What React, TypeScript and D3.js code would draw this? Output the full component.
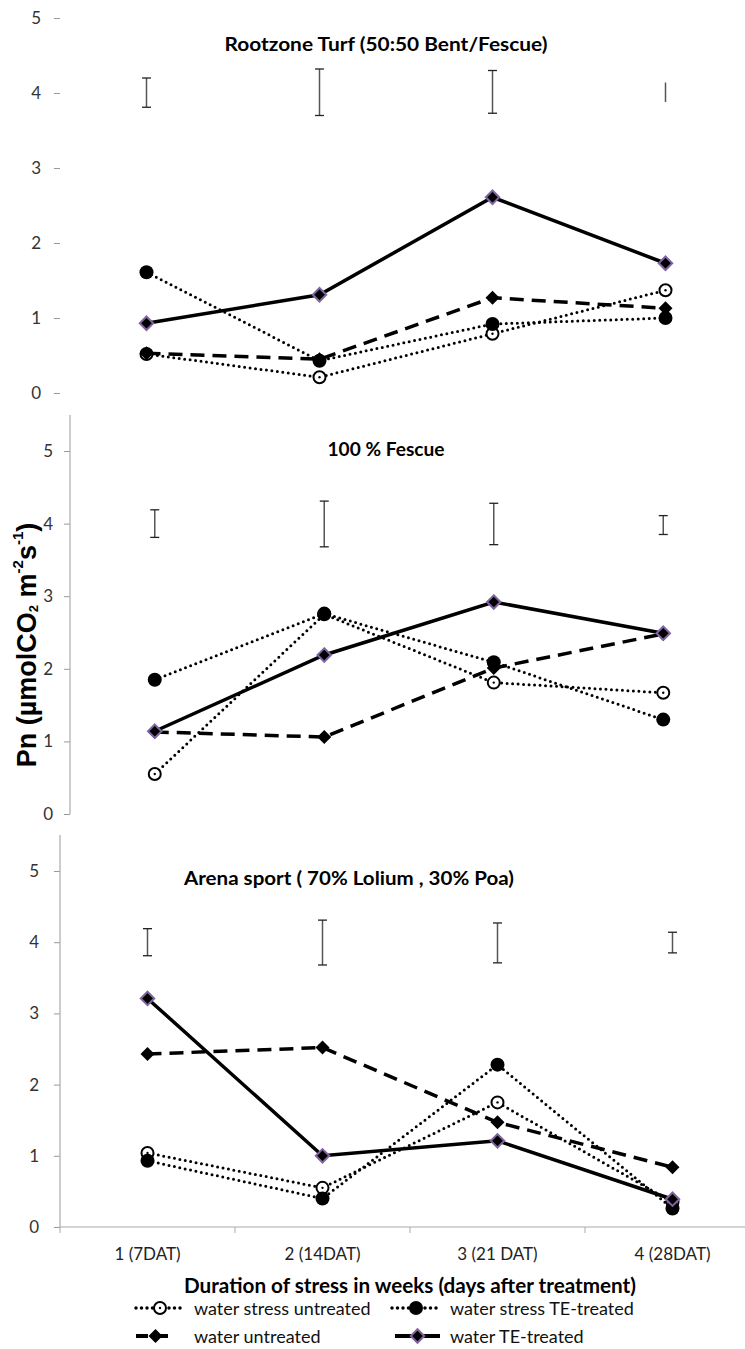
import * as d3 from "d3";
import React, { useEffect, useRef } from "react";

const weeks = ["1 (7DAT)", "2 (14DAT)", "3 (21 DAT)", "4 (28DAT)"];
const yTicks = [0, 1, 2, 3, 4, 5];
const seriesNames = [
  "water stress untreated",
  "water stress TE-treated",
  "water untreated",
  "water TE-treated",
];

// Rootzone Turf (50:50 Bent/Fescue)
const rootzoneStressUntreated = [0.52, 0.21, 0.79, 1.37];
const rootzoneStressTE = [1.61, 0.43, 0.92, 1.0];
const rootzoneWaterUntreated = [0.53, 0.45, 1.27, 1.13];
const rootzoneWaterTE = [0.93, 1.31, 2.61, 1.73];
const rootzoneLsdLow = [3.81, 3.7, 3.73, 3.88];
const rootzoneLsdHigh = [4.2, 4.32, 4.3, 4.14];

// 100 % Fescue
const fescueStressUntreated = [0.55, 2.75, 1.81, 1.67];
const fescueStressTE = [1.85, 2.76, 2.09, 1.3];
const fescueWaterUntreated = [1.13, 1.06, 2.01, 2.48];
const fescueWaterTE = [1.14, 2.19, 2.92, 2.49];
const fescueLsdLow = [3.81, 3.68, 3.71, 3.85];
const fescueLsdHigh = [4.19, 4.31, 4.28, 4.11];

// Arena sport (70% Lolium, 30% Poa)
const arenaStressUntreated = [1.04, 0.55, 1.75, 0.35];
const arenaStressTE = [0.93, 0.4, 2.28, 0.26];
const arenaWaterUntreated = [2.43, 2.52, 1.47, 0.84];
const arenaWaterTE = [3.21, 1.0, 1.21, 0.39];
const arenaLsdLow = [3.81, 3.68, 3.71, 3.85];
const arenaLsdHigh = [4.19, 4.31, 4.27, 4.14];

const sans = "Lato, 'Open Sans', sans-serif";

// line styles per series: dotted / dotted / dashed / solid
const styles = [
  { dash: "0 5.5", width: 3, cap: "round", marker: "open" },
  { dash: "0 5.5", width: 3, cap: "round", marker: "filled" },
  { dash: "14 8", width: 3.5, cap: "butt", marker: "diamond" },
  { dash: null, width: 3.5, cap: "butt", marker: "diamondPurple" },
];

function drawMarker(g, kind, cx, cy) {
  if (kind === "open") {
    g.append("circle").attr("cx", cx).attr("cy", cy).attr("r", 6)
      .attr("fill", "white").attr("stroke", "black").attr("stroke-width", 2);
    g.append("circle").attr("cx", cx).attr("cy", cy).attr("r", 1.2).attr("fill", "black");
  } else if (kind === "filled") {
    g.append("circle").attr("cx", cx).attr("cy", cy).attr("r", 7).attr("fill", "black");
  } else {
    const sym = d3.symbol(d3.symbolDiamond2, kind === "diamondPurple" ? 115 : 125);
    g.append("path").attr("d", sym()).attr("transform", `translate(${cx},${cy})`)
      .attr("fill", "black")
      .attr("stroke", kind === "diamondPurple" ? "#8064a2" : "none")
      .attr("stroke-width", 2);
  }
}

export default function App() {
  const svgRef = useRef(null);

  useEffect(() => {
    const svg = d3.select(svgRef.current);
    svg.selectAll("*").remove();

    const panels = [
      {
        series: [rootzoneStressUntreated, rootzoneStressTE, rootzoneWaterUntreated, rootzoneWaterTE],
        low: rootzoneLsdLow, high: rootzoneLsdHigh, caps: [true, true, true, false],
        xr: [60, 752], yr: [393, 18], axisTop: null, labelX: 41, xAxis: false,
        title: "Rootzone Turf  (50:50 Bent/Fescue)", tx: 386, ty: 43, tw: 323,
      },
      {
        series: [fescueStressUntreated, fescueStressTE, fescueWaterUntreated, fescueWaterTE],
        low: fescueLsdLow, high: fescueLsdHigh, caps: [true, true, true, true],
        xr: [70, 748], yr: [814, 451], axisTop: 415, labelX: 53, xAxis: false,
        title: "100 % Fescue", tx: 386, ty: 448, tw: 117,
      },
      {
        series: [arenaStressUntreated, arenaStressTE, arenaWaterUntreated, arenaWaterTE],
        low: arenaLsdLow, high: arenaLsdHigh, caps: [true, true, true, true],
        xr: [60, 760], yr: [1227, 871], axisTop: 835, labelX: 39, xAxis: true,
        title: "Arena sport ( 70% Lolium , 30% Poa)", tx: 349, ty: 877, tw: 330,
      },
    ];

    panels.forEach(p => {
      const x = d3.scaleBand().domain(weeks).range(p.xr);
      const y = d3.scaleLinear().domain([0, 5]).range(p.yr);
      const cx = d => x(d) + x.bandwidth() / 2;
      const g = svg.append("g");

      // y axis
      const ax = g.append("g").attr("transform", `translate(${p.xr[0]},0)`)
        .call(d3.axisLeft(y).tickValues(yTicks).tickSize(6).tickFormat(d3.format("d")));
      ax.select(".domain").remove();
      ax.selectAll(".tick line").attr("stroke", "#999");
      ax.selectAll(".tick text").attr("font-family", sans).attr("font-size", 17).attr("fill", "#333")
        .attr("x", p.labelX - p.xr[0]);
      if (p.axisTop !== null) {
        g.append("line").attr("x1", p.xr[0]).attr("x2", p.xr[0])
          .attr("y1", p.axisTop).attr("y2", y(0)).attr("stroke", "#aaa").attr("stroke-width", 1.2);
      }

      // x axis (bottom panel only)
      if (p.xAxis) {
        const xa = g.append("g").attr("transform", `translate(0,${y(0)})`)
          .call(d3.axisBottom(x).tickSize(0).tickPadding(21));
        xa.select(".domain").remove();
        xa.selectAll(".tick text").attr("font-family", sans).attr("font-size", 17).attr("fill", "#222");
        g.append("line").attr("x1", p.xr[0]).attr("x2", 745).attr("y1", y(0)).attr("y2", y(0))
          .attr("stroke", "#aaa").attr("stroke-width", 1.2);
        g.selectAll(".xsep").data(weeks).enter().append("line")
          .attr("x1", d => x(d)).attr("x2", d => x(d))
          .attr("y1", y(0)).attr("y2", y(0) + 6).attr("stroke", "#aaa");
      }

      // title
      g.append("text").attr("x", p.tx).attr("y", p.ty).attr("text-anchor", "middle")
        .attr("dominant-baseline", "central").attr("font-family", sans).attr("font-weight", "bold")
        .attr("font-size", 19).attr("textLength", p.tw).attr("lengthAdjust", "spacingAndGlyphs")
        .text(p.title);

      // LSD bars
      weeks.forEach((w, i) => {
        g.append("line").attr("x1", cx(w)).attr("x2", cx(w))
          .attr("y1", y(p.low[i])).attr("y2", y(p.high[i])).attr("stroke", "#555").attr("stroke-width", 1.5);
        if (p.caps[i]) {
          [p.low[i], p.high[i]].forEach(v => {
            g.append("line").attr("x1", cx(w) - 4.5).attr("x2", cx(w) + 4.5)
              .attr("y1", y(v)).attr("y2", y(v)).attr("stroke", "#222").attr("stroke-width", 1.3);
          });
        }
      });

      // series
      const line = d3.line().x(d => cx(d.w)).y(d => y(d.v));
      p.series.forEach((vals, si) => {
        const st = styles[si];
        const pts = weeks.map((w, i) => ({ w, v: vals[i] }));
        g.append("path").datum(pts).attr("d", line).attr("fill", "none").attr("stroke", "black")
          .attr("stroke-width", st.width).attr("stroke-linecap", st.cap)
          .attr("stroke-dasharray", st.dash);
      });
      p.series.forEach((vals, si) => {
        weeks.forEach((w, i) => drawMarker(g, styles[si].marker, cx(w), y(vals[i])));
      });
    });

    // y axis label
    const yl = svg.append("text").attr("transform", "translate(27,645) rotate(-90)")
      .attr("text-anchor", "middle").attr("dominant-baseline", "central")
      .attr("font-family", "'Liberation Sans', Arial, sans-serif").attr("font-weight", "bold")
      .attr("font-size", 27);
    yl.append("tspan").text("Pn (µmolCO");
    yl.append("tspan").attr("font-size", 13).attr("dy", 6).text("2");
    yl.append("tspan").attr("dy", -6).text(" m");
    yl.append("tspan").attr("font-size", 15).attr("dy", -10).text("-2");
    yl.append("tspan").attr("dy", 10).text("s");
    yl.append("tspan").attr("font-size", 15).attr("dy", -10).text("-1");
    yl.append("tspan").attr("dy", 10).text(")");

    // x axis title
    svg.append("text").attr("x", 410).attr("y", 1285).attr("text-anchor", "middle")
      .attr("dominant-baseline", "central").attr("font-family", sans).attr("font-weight", "bold")
      .attr("font-size", 20).attr("textLength", 452).attr("lengthAdjust", "spacingAndGlyphs")
      .text("Duration of stress in weeks (days after treatment)");

    // legend
    const legendPos = [
      { x0: 136, x1: 184, tx: 194, y: 1308 },
      { x0: 392, x1: 440, tx: 450, y: 1308 },
      { x0: 136, x1: 175, tx: 194, y: 1336 },
      { x0: 395, x1: 440, tx: 450, y: 1336 },
    ];
    seriesNames.forEach((name, i) => {
      const lp = legendPos[i];
      const st = styles[i];
      const lg = svg.append("g");
      lg.append("line").attr("x1", lp.x0).attr("x2", lp.x1).attr("y1", lp.y).attr("y2", lp.y)
        .attr("stroke", "black").attr("stroke-width", st.width + 0.5).attr("stroke-linecap", st.cap)
        .attr("stroke-dasharray", st.dash === "14 8" ? "12 8" : st.dash);
      drawMarker(lg, st.marker, (lp.x0 + lp.x1) / 2, lp.y);
      lg.append("text").attr("x", lp.tx).attr("y", lp.y).attr("dominant-baseline", "central")
        .attr("font-family", sans).attr("font-size", 18).attr("fill", "#111").text(name);
    });
  }, []);

  return (
    <svg ref={svgRef} width={745} height={1349}
      style={{ position: "absolute", left: 0, top: 0, background: "white" }} />
  );
}
